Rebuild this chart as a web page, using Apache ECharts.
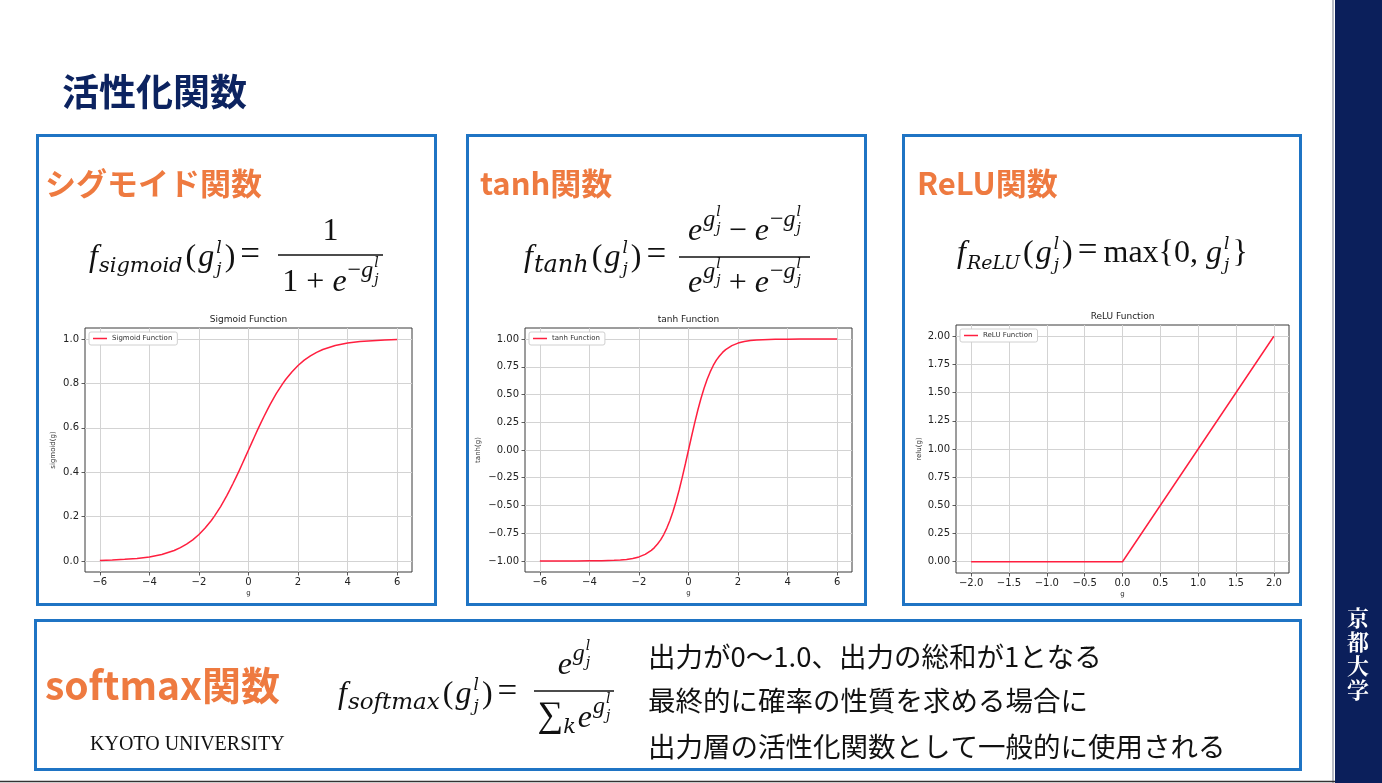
<!DOCTYPE html>
<html><head><meta charset="utf-8">
<script src="https://cdn.jsdelivr.net/npm/echarts@6/dist/echarts.min.js"></script>
<style>html,body{margin:0;padding:0;background:#fff}#c{width:1382px;height:783px}</style>
</head><body><div id="c"></div>
<script>
// ---------- data ----------
const gX = [-6,-5.5,-5,-4.5,-4,-3.5,-3,-2.75,-2.5,-2.25,-2,-1.75,-1.5,-1.375,-1.25,-1.125,-1,-0.875,-0.75,-0.625,-0.5,-0.375,-0.25,-0.125,0,0.125,0.25,0.375,0.5,0.625,0.75,0.875,1,1.125,1.25,1.375,1.5,1.75,2,2.25,2.5,2.75,3,3.5,4,4.5,5,5.5,6];
const sigmoidY = [0.002,0.004,0.007,0.011,0.018,0.029,0.047,0.060,0.076,0.095,0.119,0.148,0.182,0.202,0.223,0.245,0.269,0.294,0.321,0.349,0.378,0.407,0.438,0.469,0.500,0.531,0.562,0.593,0.622,0.651,0.679,0.706,0.731,0.755,0.777,0.798,0.818,0.852,0.881,0.905,0.924,0.940,0.953,0.971,0.982,0.989,0.993,0.996,0.998];
const tanhY = [-1.000,-1.000,-1.000,-1.000,-0.999,-0.998,-0.995,-0.992,-0.987,-0.978,-0.964,-0.941,-0.905,-0.880,-0.848,-0.810,-0.762,-0.704,-0.635,-0.555,-0.462,-0.358,-0.245,-0.124,0,0.124,0.245,0.358,0.462,0.555,0.635,0.704,0.762,0.810,0.848,0.880,0.905,0.941,0.964,0.978,0.987,0.992,0.995,0.998,0.999,1.000,1.000,1.000,1.000];
const reluX = [-2,-1,0,1,2];
const reluY = [0,0,0,1,2];

const seriesNames = ['Sigmoid Function','tanh Function','ReLU Function'];
const yNames = ['sigmoid(g)','tanh(g)','relu(g)'];

const sigXTicks = [-6,-4,-2,0,2,4,6];
const sigXLabels = ['−6','−4','−2','0','2','4','6'];
const sigYTicks = [0,0.2,0.4,0.6,0.8,1.0];
const sigYLabels = ['0.0','0.2','0.4','0.6','0.8','1.0'];
const tanhYTicks = [-1,-0.75,-0.5,-0.25,0,0.25,0.5,0.75,1];
const tanhYLabels = ['−1.00','−0.75','−0.50','−0.25','0.00','0.25','0.50','0.75','1.00'];
const reluXTicks = [-2,-1.5,-1,-0.5,0,0.5,1,1.5,2];
const reluXLabels = ['−2.0','−1.5','−1.0','−0.5','0.0','0.5','1.0','1.5','2.0'];
const reluYTicks = [0,0.25,0.5,0.75,1,1.25,1.5,1.75,2];
const reluYLabels = ['0.00','0.25','0.50','0.75','1.00','1.25','1.50','1.75','2.00'];

const softmaxNotes = ['出力が0〜1.0、出力の総和が1となる','最終的に確率の性質を求める場合に','出力層の活性化関数として一般的に使用される'];

// ---------- styling helpers ----------
const RED = '#ff1f3f';
const BLUE = '#1f74c4';
const ORANGE = '#ee7a40';
const NAVY = '#0c2360';
const TF = 'DejaVu Sans';

function lab(ticks, labels){ return v => { const i = ticks.findIndex(t => Math.abs(t - v) < 1e-9); return i < 0 ? '' : labels[i]; }; }

function xa(gi, min, max, ticks, labels){
  return {type:'value', gridIndex:gi, min, max, name:'g', nameLocation:'middle', nameGap:18,
    nameTextStyle:{fontSize:7, color:'#333', fontFamily:TF},
    axisLine:{show:false, onZero:false},
    axisTick:{show:true, customValues:ticks, length:3.5, lineStyle:{color:'#333', width:0.8}},
    axisLabel:{customValues:ticks, formatter:lab(ticks,labels), fontSize:10, color:'#222', margin:5, fontFamily:TF},
    splitLine:{show:true, lineStyle:{color:'#d3d3d3', width:1}}};
}
function ya(gi, min, max, ticks, labels, name, gap){
  return {type:'value', gridIndex:gi, min, max, name, nameLocation:'middle', nameGap:gap,
    nameTextStyle:{fontSize:7, color:'#333', fontFamily:TF},
    axisLine:{show:false, onZero:false},
    axisTick:{show:true, customValues:ticks, length:3.5, lineStyle:{color:'#333', width:0.8}},
    axisLabel:{customValues:ticks, formatter:lab(ticks,labels), fontSize:10, color:'#222', margin:6, fontFamily:TF},
    splitLine:{show:true, lineStyle:{color:'#d3d3d3', width:1}}};
}
function lg(name, left, top){
  return {data:[name], left, top, icon:'rect', itemWidth:14, itemHeight:1.5, padding:[3,5,3,4],
    borderColor:'#d0d0d0', borderWidth:1, borderRadius:2, backgroundColor:'#fff', selectedMode:false,
    textStyle:{fontSize:7, color:'#333', fontFamily:TF}};
}
function ttl(text, cx, top){
  return {text, left:cx, top, textAlign:'center', padding:0,
    textStyle:{fontSize:9, fontWeight:'normal', color:'#222', fontFamily:TF}};
}
function ser(name, gi, xs, ys){
  return {type:'line', name, xAxisIndex:gi, yAxisIndex:gi, data:xs.map((x,i)=>[x,ys[i]]),
    showSymbol:false, symbol:'none', smooth:false,
    lineStyle:{color:RED, width:1.5}, itemStyle:{color:RED}};
}

// ---------- formula layout (text pieces, measured with canvas) ----------
const ctx = document.createElement('canvas').getContext('2d');
const FF = '"Liberation Serif","DejaVu Serif",serif';
const FD = '"DejaVu Serif",serif';
function fnt(p){ return (p.i ? 'italic ' : '') + p.s + 'px ' + (p.d ? FD : FF); }
function wd(p){ ctx.font = fnt(p); return ctx.measureText(p.t).width; }
function txt(p, x, base, out){
  out.push({type:'text', x:x, y:base + (p.dy||0) - 0.3375*p.s, silent:true,
    style:{text:p.t, font:fnt(p), fill:'#111', align:'left', verticalAlign:'middle', textAlign:'left', textVerticalAlign:'middle'}});
}
function row(ps, x, base, out){
  let cx = x;
  for (const p of ps){
    if (p.st){ let m = 0; for (const q of p.st){ if (out) txt(q, cx, base, out); m = Math.max(m, wd(q)); } cx += m; }
    else { if (out) txt(p, cx, base, out); cx += wd(p); }
    cx += (p.g||0);
  }
  return cx - x;
}
function frac(num, den, x1, x2, by, nb, db, out){
  out.push({type:'line', silent:true, shape:{x1, y1:by, x2, y2:by}, style:{stroke:'#111', lineWidth:1.6}});
  const wn = row(num,0,0,null), wdn = row(den,0,0,null);
  row(num, (x1+x2-wn)/2, nb, out);
  row(den, (x1+x2-wdn)/2, db, out);
}
const M = 32, S2 = 24, T = 17, U = 14;
const gjl = [{t:'g', s:M, i:1, g:2}, {st:[{t:'l', s:T, i:1, d:1, dy:-14},{t:'j', s:T, i:1, d:1, dy:7}], g:3}];
const eg = [{t:'e', s:M, i:1, g:1}, {t:'g', s:S2, i:1, dy:-14, g:1}, {st:[{t:'l', s:U, i:1, d:1, dy:-25},{t:'j', s:U, i:1, d:1, dy:-8}]}];
const emg = [{t:'e', s:M, i:1, g:1}, {t:'−', s:S2, dy:-14}, {t:'g', s:S2, i:1, dy:-14, g:1}, {st:[{t:'l', s:U, i:1, d:1, dy:-25},{t:'j', s:U, i:1, d:1, dy:-8}]}];
function lhs(sub, ss){ return [{t:'f', s:M, i:1, g:1}, {t:sub, s:ss, i:1, d:1, dy:6, g:3}, {t:'(', s:M, g:2}, ...gjl, {t:')', s:M, g:5}, {t:'=', s:35, g:6}]; }

const fg = [];
// sigmoid
row(lhs('sigmoid', 21), 89, 268, fg);
frac([{t:'1', s:M}], [{t:'1', s:M}, {t:' + ', s:M}, ...emg], 278, 383, 255, 242, 293, fg);
// tanh
row(lhs('tanh', 24), 524, 268, fg);
frac([...eg, {t:' − ', s:M}, ...emg], [...eg, {t:' + ', s:M}, ...emg], 679, 810, 257, 242, 294, fg);
// ReLU
row([...lhs('ReLU', 19), {t:'max{0, ', s:M}, ...gjl, {t:'}', s:M}], 957, 264, fg);
// softmax
row(lhs('softmax', 23), 338, 705, fg);
frac(eg, [{t:'∑', s:36}, {t:'k', s:21, i:1, d:1, dy:6, g:2}, ...eg], 534, 614, 691, 676, 729, fg);

// ---------- page decoration ----------
function box(x, y, w, h){ return {type:'rect', silent:true, shape:{x, y, width:w, height:h}, style:{fill:'none', stroke:BLUE, lineWidth:3}}; }
function head(text, x, cy, size, color){
  return {type:'text', x, y:cy, silent:true, style:{text, font:'bold ' + size + 'px "Noto Sans CJK JP"', fill:color, align:'left', verticalAlign:'middle', textAlign:'left', textVerticalAlign:'middle'}};
}
const deco = [
  {type:'rect', silent:true, shape:{x:1335, y:0, width:47, height:783}, style:{fill:'#0b1f5b'}},
  {type:'rect', silent:true, shape:{x:1332, y:0, width:2, height:783}, style:{fill:'#b8bcc6'}},
  {type:'line', silent:true, shape:{x1:0, y1:781.5, x2:1335, y2:781.5}, style:{stroke:'#333', lineWidth:1.5}},
  {type:'text', x:1358, y:606, silent:true, style:{text:'京\n都\n大\n学', font:'bold 22px "Noto Serif CJK JP","Noto Sans CJK JP"', fill:'#fff', lineHeight:24, align:'center', verticalAlign:'top', textAlign:'center', textVerticalAlign:'top'}},
  head('活性化関数', 62, 92, 37, NAVY),
  box(37.5, 135.5, 398, 469), box(467.5, 135.5, 398, 469), box(903.5, 135.5, 397, 469),
  box(35.5, 620.5, 1265, 149),
  head('シグモイド関数', 45, 183, 31, ORANGE),
  head('tanh関数', 480, 183, 31, ORANGE),
  head('ReLU関数', 917, 183, 31, ORANGE),
  head('softmax関数', 45, 685, 39, ORANGE),
  {type:'text', x:90, y:745, silent:true, style:{text:'KYOTO UNIVERSITY', font:'20px "Liberation Serif"', fill:'#111', align:'left', verticalAlign:'middle', textAlign:'left', textVerticalAlign:'middle'}}
];
softmaxNotes.forEach((t, i) => deco.push({type:'text', x:648, y:[657, 701, 747][i], silent:true,
  style:{text:t, font:'27.5px "Noto Sans CJK JP"', fill:'#111', align:'left', verticalAlign:'middle', textAlign:'left', textVerticalAlign:'middle'}}));

const chart = echarts.init(document.getElementById('c'), null, {renderer:'canvas'});
chart.setOption({
  animation:false,
  backgroundColor:'#fff',
  title:[ttl(seriesNames[0], 248.5, 315), ttl('tanh Function', 688.5, 315), ttl(seriesNames[2], 1122.5, 312)],
  legend:[lg(seriesNames[0], 89, 332), lg(seriesNames[1], 529, 332), lg(seriesNames[2], 960, 329)],
  grid:[
    {left:85, top:328, width:327, height:244, show:true, borderColor:'#3a3a3a', borderWidth:1},
    {left:525, top:328, width:327, height:244, show:true, borderColor:'#3a3a3a', borderWidth:1},
    {left:956, top:325, width:333, height:248, show:true, borderColor:'#3a3a3a', borderWidth:1}
  ],
  xAxis:[xa(0,-6.6,6.6,sigXTicks,sigXLabels), xa(1,-6.6,6.6,sigXTicks,sigXLabels), xa(2,-2.2,2.2,reluXTicks,reluXLabels)],
  yAxis:[ya(0,-0.05,1.05,sigYTicks,sigYLabels,yNames[0],28), ya(1,-1.1,1.1,tanhYTicks,tanhYLabels,yNames[1],43), ya(2,-0.1,2.1,reluYTicks,reluYLabels,yNames[2],33)],
  series:[ser(seriesNames[0],0,gX,sigmoidY), ser(seriesNames[1],1,gX,tanhY), ser(seriesNames[2],2,reluX,reluY)],
  graphic:{elements:[...deco, ...fg]}
});
</script></body></html>
